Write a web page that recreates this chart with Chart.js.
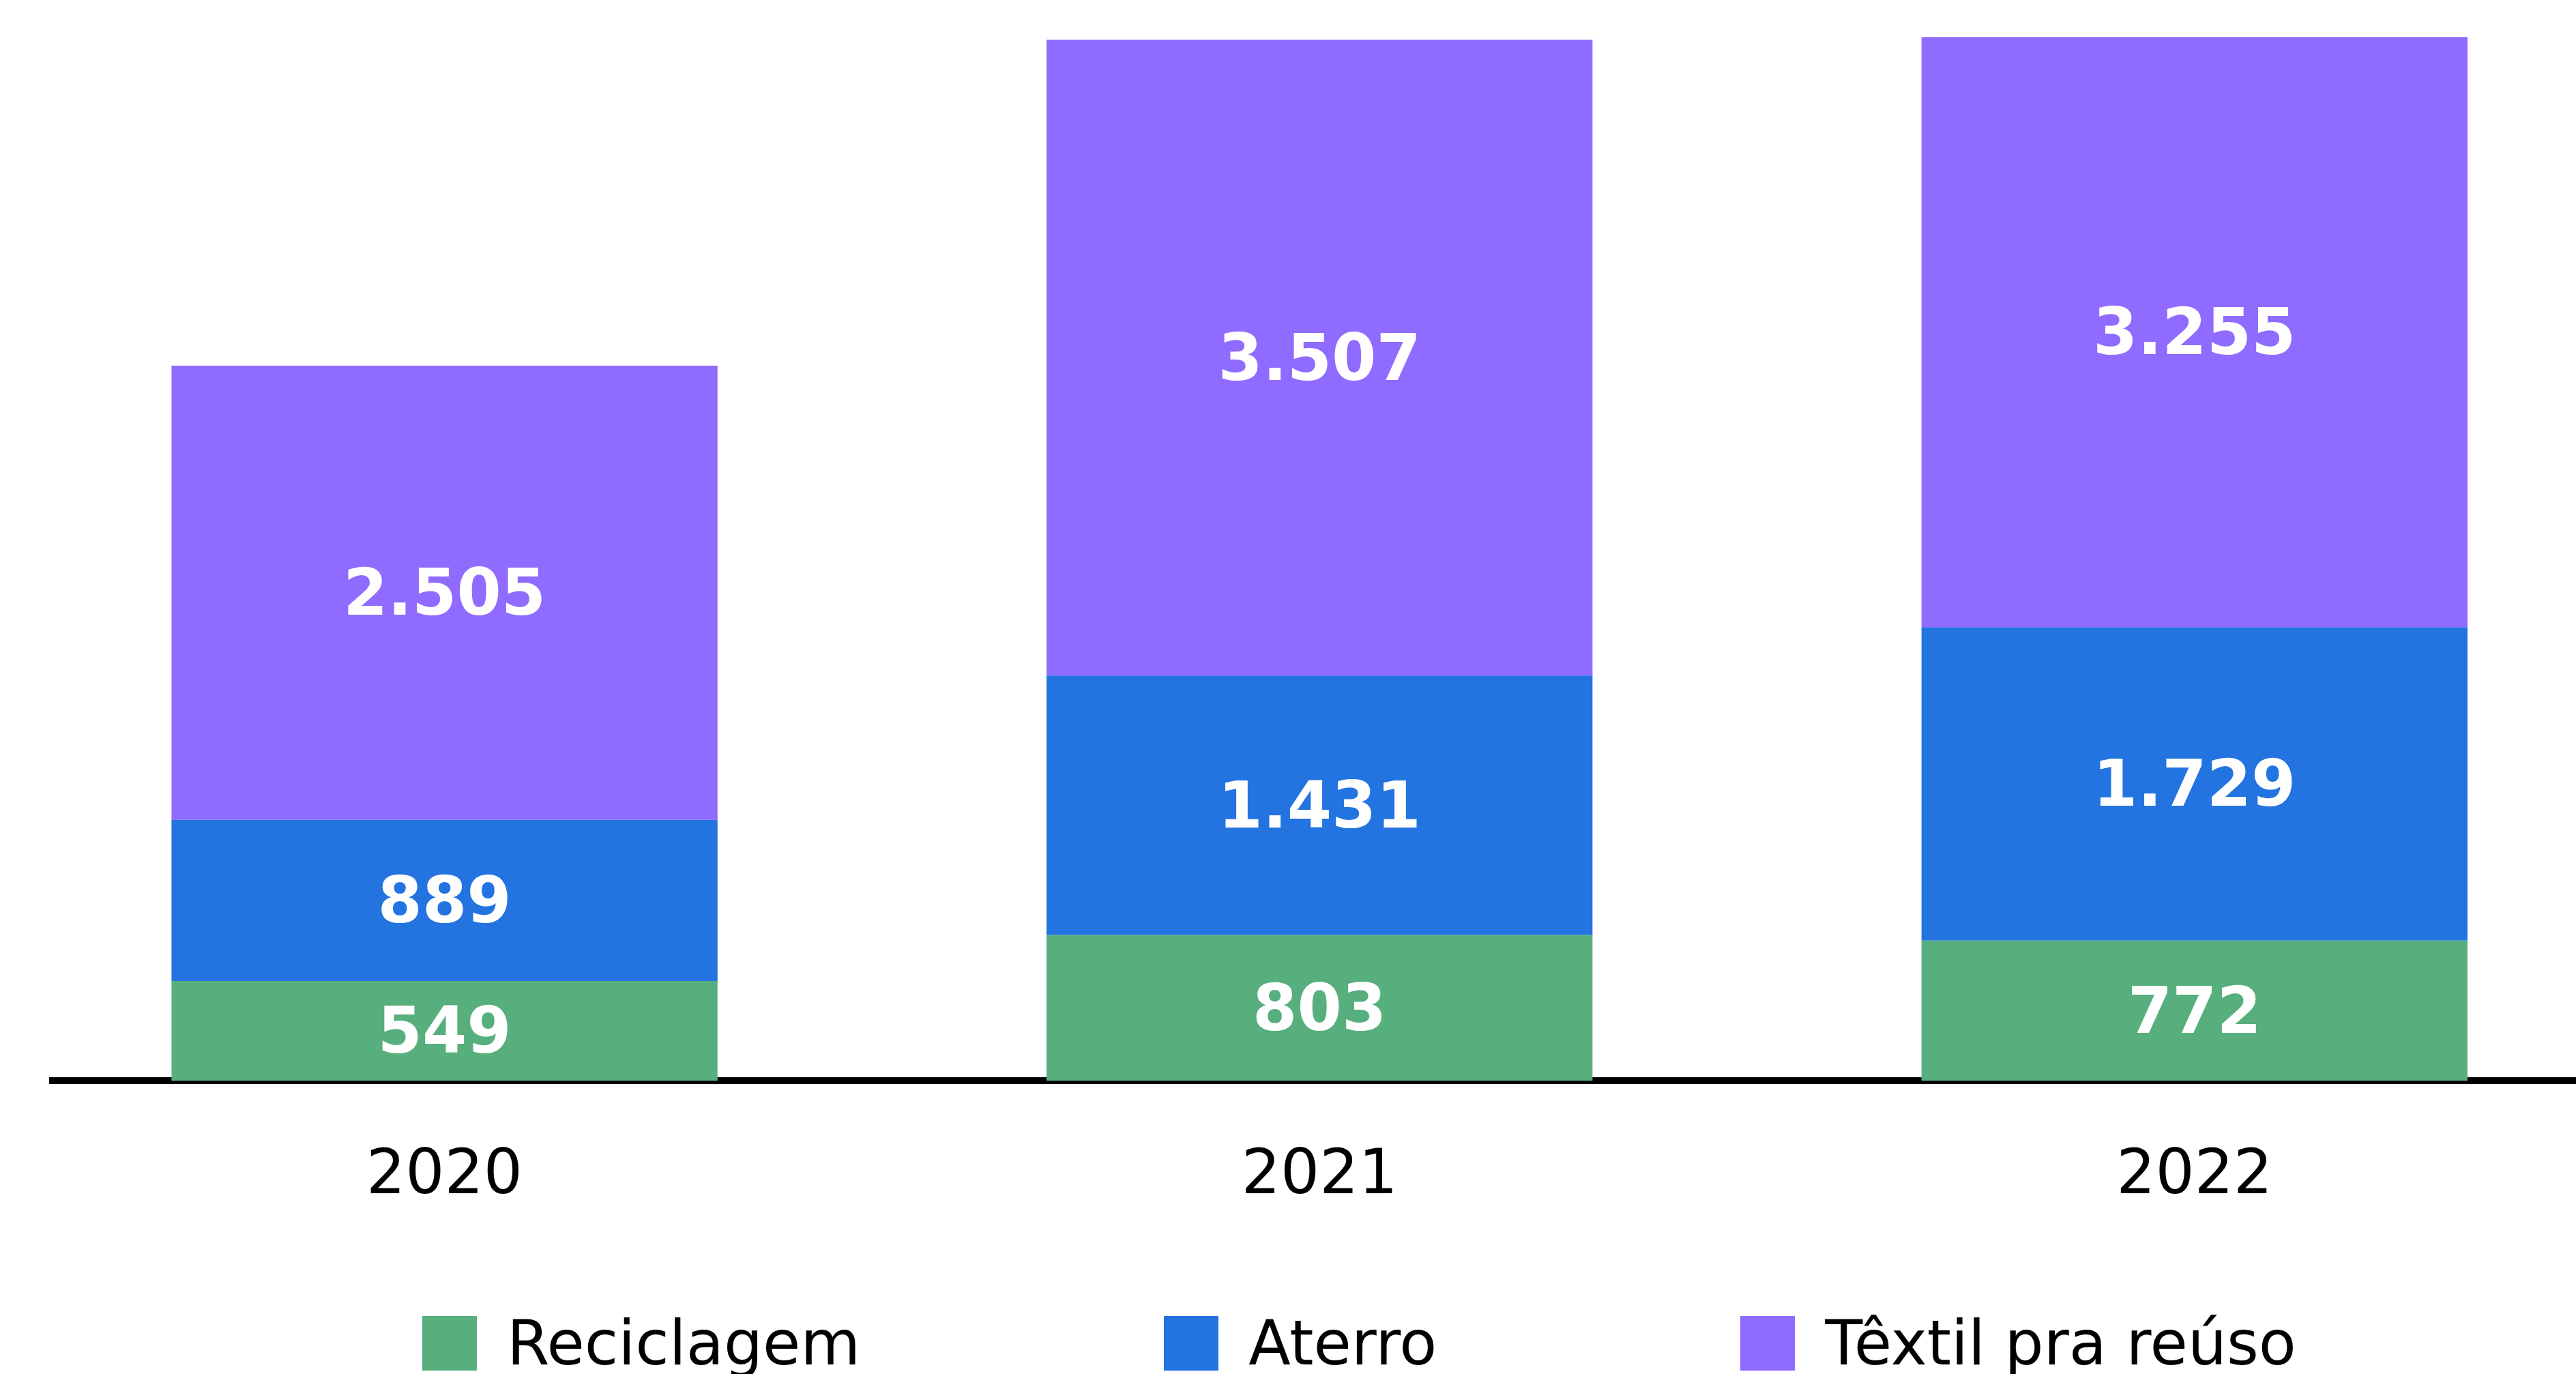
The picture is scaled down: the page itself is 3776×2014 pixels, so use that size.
<!DOCTYPE html>
<html lang="pt-BR">
<head>
<meta charset="utf-8">
<title>Destinação dos resíduos têxteis</title>
<script src="https://cdn.jsdelivr.net/npm/chart.js@4.4.1/dist/chart.umd.min.js"></script>
<style>
  html, body { margin: 0; padding: 0; background: #fff; overflow: hidden; }
  #wrap { position: relative; width: 3776px; height: 2014px; overflow: hidden; }
  #legend {
    position: absolute; left: 619px; top: 1929px;
    display: flex; gap: 445px;
    font-family: 'DejaVu Sans', sans-serif; font-size: 90px; color: #000;
  }
  .item { display: flex; align-items: center; height: 80px; line-height: 80px; white-space: nowrap; }
  .swatch { width: 80px; height: 80px; margin-right: 44px; flex: none; }
</style>
</head>
<body>
<div id="wrap">
  <canvas id="chart" width="3776" height="2014"></canvas>
  <div id="legend"></div>
</div>
<script>
const years = ['2020', '2021', '2022'];
const reciclagem = [549, 803, 772];
const aterro = [889, 1431, 1729];
const textilReuso = [2505, 3507, 3255];
const seriesNames = ['Reciclagem', 'Aterro', 'Têxtil pra reúso'];
const seriesColors = ['#57AF7E', '#2373E0', '#8F6BFF'];

// thousands separator the brazilian way: 2505 -> 2.505
function fmt(v) {
  return String(v).replace(/\B(?=(\d{3})+(?!\d))/g, '.');
}

function toPoints(values) {
  return values.map((v, i) => ({ x: i, y: v }));
}

// white numbers in the middle of every segment
const valueLabels = {
  id: 'valueLabels',
  afterDatasetsDraw(chart) {
    const ctx = chart.ctx;
    ctx.save();
    ctx.fillStyle = '#fff';
    ctx.font = 'bold 94px "DejaVu Sans"';
    ctx.textAlign = 'center';
    ctx.textBaseline = 'middle';
    chart.data.datasets.forEach((ds, di) => {
      chart.getDatasetMeta(di).data.forEach((bar, i) => {
        const { x, y, base } = bar.getProps(['x', 'y', 'base'], true);
        // a touch lower than the exact middle, like the original
        ctx.fillText(fmt(ds.data[i].y), x, (y + base) / 2 + 8);
      });
    });
    ctx.restore();
  }
};

const allSeries = [reciclagem, aterro, textilReuso];

const chart = new Chart(document.getElementById('chart').getContext('2d'), {
  type: 'bar',
  data: {
    datasets: allSeries.map((values, i) => ({
      label: seriesNames[i],
      data: toPoints(values),
      backgroundColor: seriesColors[i],
      borderWidth: 0,
      barPercentage: 0.624,
      categoryPercentage: 1
    }))
  },
  options: {
    responsive: false,
    animation: false,
    layout: { padding: { left: 77, right: 0, top: 0, bottom: 0 } },
    scales: {
      x: {
        type: 'linear',
        stacked: true,
        offset: false,
        bounds: 'data',
        min: -0.448,
        max: 2.436,
        grid: { display: false, drawTicks: false, offset: false },
        border: { display: true, color: '#000', width: 10 },
        afterBuildTicks: scale => { scale.ticks = years.map((_, i) => ({ value: i })); },
        afterFit: scale => { scale.height = 430; },
        ticks: {
          autoSkip: false,
          maxRotation: 0,
          padding: 88,
          color: '#000',
          font: { family: 'DejaVu Sans', size: 90 },
          callback: v => years[v] ?? ''
        }
      },
      y: {
        stacked: true,
        display: false,
        min: 0,
        max: 5960
      }
    },
    plugins: {
      legend: { display: false },
      tooltip: { enabled: false }
    }
  },
  plugins: [valueLabels]
});

// legend as html under the chart
const legendEl = document.getElementById('legend');
chart.data.datasets.forEach(ds => {
  const item = document.createElement('div');
  item.className = 'item';
  const sw = document.createElement('span');
  sw.className = 'swatch';
  sw.style.background = ds.backgroundColor;
  item.appendChild(sw);
  item.appendChild(document.createTextNode(ds.label));
  legendEl.appendChild(item);
});
</script>
</body>
</html>
